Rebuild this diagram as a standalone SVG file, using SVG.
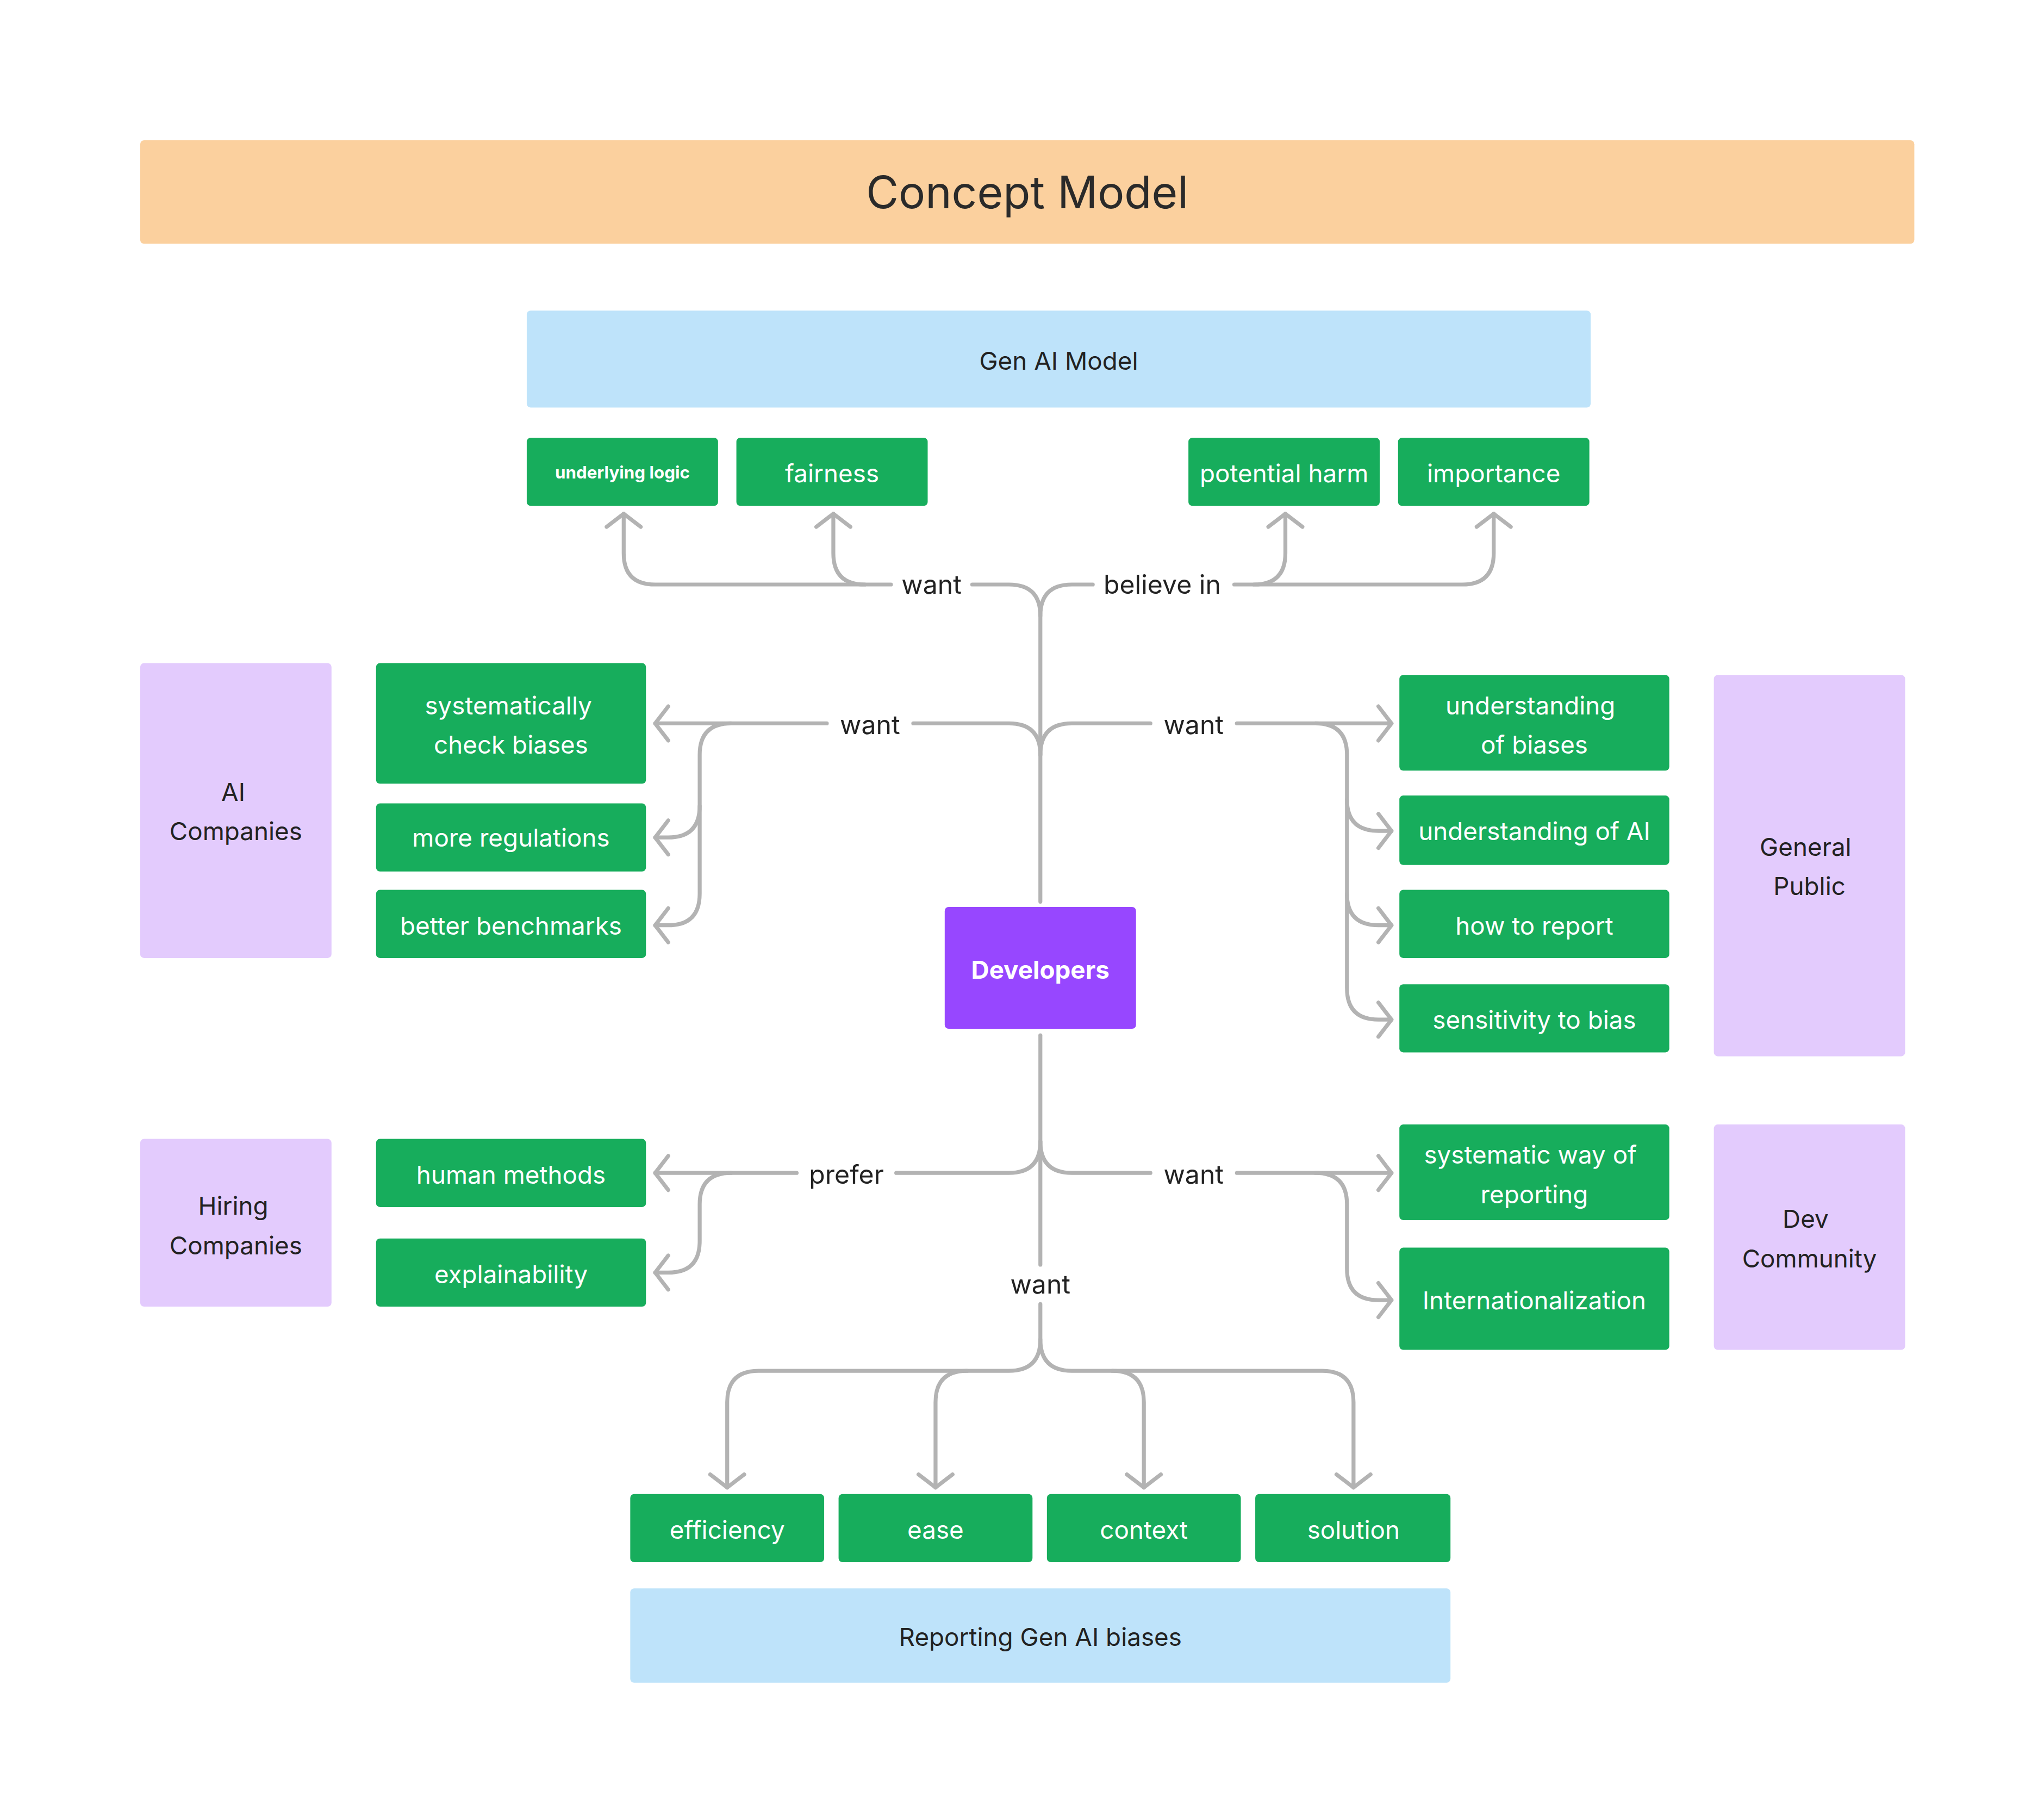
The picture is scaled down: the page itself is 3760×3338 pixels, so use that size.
<svg xmlns="http://www.w3.org/2000/svg" width="3760" height="3338" viewBox="0 0 3760 3338">
<style>
.g{fill:#17ad5c}.p{fill:#e3cbfd}.b{fill:#bee3fa}
.c{fill:none;stroke:#b3b3b3;stroke-width:3;stroke-linecap:round}
.a{marker-end:url(#ah)}
text{font-family:Inter,"Noto Sans",sans-serif;text-anchor:middle}
.w{fill:#fff;font-size:19px}.d{fill:#222;font-size:19px}.l{fill:#222;font-size:20px}
</style>
<defs><marker id="ah" markerUnits="userSpaceOnUse" markerWidth="30" markerHeight="30" refX="0" refY="0" viewBox="-15 -15 30 30" orient="auto"><path d="M-10,-13 L0,0 L-10,13" fill="none" stroke="#b3b3b3" stroke-width="3" stroke-linecap="round" stroke-linejoin="round"/></marker></defs>
<rect width="3760" height="3338" fill="#fff"/>
<g transform="scale(2.4103)">
<g id="title"><rect x="107" y="107" width="1354" height="79" rx="3" fill="#fbd09e"/><text x="784" y="159" font-size="34" fill="#2a2a2a">Concept Model</text></g>
<g id="connectors">
<path class="c" d="M794,688 V470 Q794,446 770,446 H742"/>
<path class="c a" d="M680,446 H500 Q476,446 476,422 V392"/>
<path class="c a" d="M660,446 Q636,446 636,422 V392"/>
<path class="c" d="M794,470 Q794,446 818,446 H834"/>
<path class="c a" d="M942,446 H1116 Q1140,446 1140,422 V392"/>
<path class="c a" d="M957,446 Q981,446 981,422 V392"/>
<path class="c" d="M794,576 Q794,552 770,552 H697"/>
<path class="c a" d="M631,552 H500"/>
<path class="c a" d="M558,552 Q534,552 534,576 V682 Q534,706 510,706 H500"/>
<path class="c a" d="M534,615 Q534,639 510,639 H500"/>
<path class="c" d="M794,576 Q794,552 818,552 H878"/>
<path class="c a" d="M944,552 H1062"/>
<path class="c a" d="M1004,552 Q1028,552 1028,576 V754 Q1028,778 1052,778 H1062"/>
<path class="c a" d="M1028,610 Q1028,634 1052,634 H1062"/>
<path class="c a" d="M1028,682 Q1028,706 1052,706 H1062"/>
<path class="c" d="M794,790 V965"/>
<path class="c" d="M794,871 Q794,895 770,895 H684"/>
<path class="c a" d="M608,895 H500"/>
<path class="c a" d="M558,895 Q534,895 534,919 V947 Q534,971 510,971 H500"/>
<path class="c" d="M794,871 Q794,895 818,895 H878"/>
<path class="c a" d="M944,895 H1062"/>
<path class="c a" d="M1004,895 Q1028,895 1028,919 V968 Q1028,992 1052,992 H1062"/>
<path class="c a" d="M794,995 V1022 Q794,1046 770,1046 H579 Q555,1046 555,1070 V1135"/>
<path class="c a" d="M738,1046 Q714,1046 714,1070 V1135"/>
<path class="c a" d="M794,1022 Q794,1046 818,1046 H1009 Q1033,1046 1033,1070 V1135"/>
<path class="c a" d="M849,1046 Q873,1046 873,1070 V1135"/>
<text class="l" x="711" y="453">want</text>
<text class="l" x="887" y="453">believe in</text>
<text class="l" x="664" y="560">want</text>
<text class="l" x="911" y="560">want</text>
<text class="l" x="646" y="903">prefer</text>
<text class="l" x="911" y="903">want</text>
<text class="l" x="794" y="987">want</text>
</g>
<g id="genai"><rect class="b" x="402" y="237" width="812" height="74" rx="3"/><text class="d" x="808" y="282">Gen AI Model</text></g>
<g id="underlying"><rect class="g" x="402" y="334" width="146" height="52" rx="3"/><text x="475" y="365" fill="#fff" font-size="13" font-weight="bold">underlying logic</text></g>
<g id="fairness"><rect class="g" x="562" y="334" width="146" height="52" rx="3"/><text class="w" x="635" y="368">fairness</text></g>
<g id="harm"><rect class="g" x="907" y="334" width="146" height="52" rx="3"/><text class="w" x="980" y="368">potential harm</text></g>
<g id="importance"><rect class="g" x="1067" y="334" width="146" height="52" rx="3"/><text class="w" x="1140" y="368">importance</text></g>
<g id="aicomp"><rect class="p" x="107" y="506" width="146" height="225" rx="3"/><text class="d" x="178" y="611">AI</text><text class="d" x="180" y="641">Companies</text></g>
<g id="syscheck"><rect class="g" x="287" y="506" width="206" height="92" rx="3"/><text class="w" x="388" y="545">systematically</text><text class="w" x="390" y="575">check biases</text></g>
<g id="regs"><rect class="g" x="287" y="613" width="206" height="52" rx="3"/><text class="w" x="390" y="646">more regulations</text></g>
<g id="bench"><rect class="g" x="287" y="679" width="206" height="52" rx="3"/><text class="w" x="390" y="713">better benchmarks</text></g>
<g id="developers"><rect x="721" y="692" width="146" height="93" rx="3" fill="#9747ff"/><text x="794" y="747" fill="#fff" font-size="19" font-weight="bold">Developers</text></g>
<g id="ubias"><rect class="g" x="1068" y="515" width="206" height="73" rx="3"/><text class="w" x="1168" y="545">understanding</text><text class="w" x="1171" y="575">of biases</text></g>
<g id="uai"><rect class="g" x="1068" y="607" width="206" height="53" rx="3"/><text class="w" x="1171" y="641">understanding of AI</text></g>
<g id="report"><rect class="g" x="1068" y="679" width="206" height="52" rx="3"/><text class="w" x="1171" y="713">how to report</text></g>
<g id="sens"><rect class="g" x="1068" y="751" width="206" height="52" rx="3"/><text class="w" x="1171" y="785">sensitivity to bias</text></g>
<g id="public"><rect class="p" x="1308" y="515" width="146" height="291" rx="3"/><text class="d" x="1378" y="653">General</text><text class="d" x="1381" y="683">Public</text></g>
<g id="hiring"><rect class="p" x="107" y="869" width="146" height="128" rx="3"/><text class="d" x="178" y="927">Hiring</text><text class="d" x="180" y="957">Companies</text></g>
<g id="human"><rect class="g" x="287" y="869" width="206" height="52" rx="3"/><text class="w" x="390" y="903">human methods</text></g>
<g id="explain"><rect class="g" x="287" y="945" width="206" height="52" rx="3"/><text class="w" x="390" y="979">explainability</text></g>
<g id="sysway"><rect class="g" x="1068" y="858" width="206" height="73" rx="3"/><text class="w" x="1168" y="888">systematic way of</text><text class="w" x="1171" y="918">reporting</text></g>
<g id="intl"><rect class="g" x="1068" y="952" width="206" height="78" rx="3"/><text class="w" x="1171" y="999">Internationalization</text></g>
<g id="devcomm"><rect class="p" x="1308" y="858" width="146" height="172" rx="3"/><text class="d" x="1378" y="937">Dev</text><text class="d" x="1381" y="967">Community</text></g>
<g id="efficiency"><rect class="g" x="481" y="1140" width="148" height="52" rx="3"/><text class="w" x="555" y="1174">efficiency</text></g>
<g id="ease"><rect class="g" x="640" y="1140" width="148" height="52" rx="3"/><text class="w" x="714" y="1174">ease</text></g>
<g id="context"><rect class="g" x="799" y="1140" width="148" height="52" rx="3"/><text class="w" x="873" y="1174">context</text></g>
<g id="solution"><rect class="g" x="958" y="1140" width="149" height="52" rx="3"/><text class="w" x="1033" y="1174">solution</text></g>
<g id="reporting"><rect class="b" x="481" y="1212" width="626" height="72" rx="3"/><text class="d" x="794" y="1256">Reporting Gen AI biases</text></g>
</g>
</svg>
